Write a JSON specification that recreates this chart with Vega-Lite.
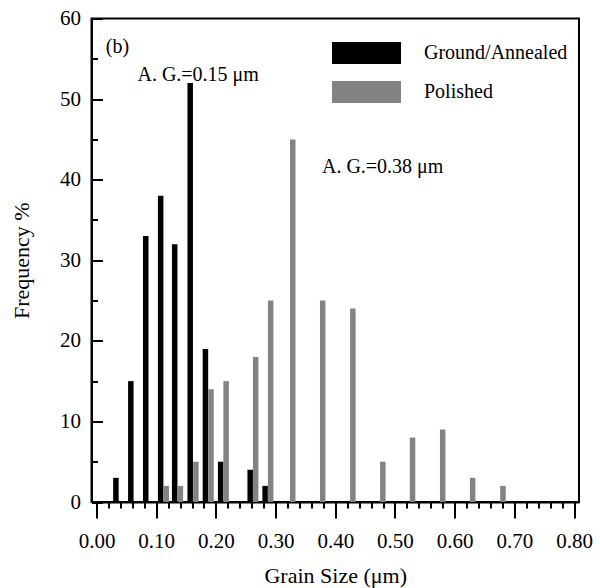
{
  "$schema": "https://vega.github.io/schema/vega-lite/v6.json",
  "autosize": {"type": "none"},
  "width": 487.5,
  "height": 483.5,
  "padding": {"left": 91.5, "top": 18.5, "right": 21, "bottom": 86},
  "background": "white",
  "config": {
    "view": {"stroke": "black", "strokeWidth": 2},
    "font": "Liberation Serif",
    "axisX": {
      "tickColor": "black", "tickWidth": 2,
      "domainColor": "black", "domainWidth": 2,
      "labelFont": "Liberation Serif", "labelFontSize": 21, "labelColor": "black",
      "labelPadding": 12, "labelFlush": false, "labelOverlap": false,
      "titleFont": "Liberation Serif", "titleFontSize": 22, "titleFontWeight": "normal", "titleColor": "black",
      "titlePadding": 14, "grid": false
    },
    "axisY": {
      "tickColor": "black", "tickWidth": 2,
      "domainColor": "black", "domainWidth": 2,
      "labelFont": "Liberation Serif", "labelFontSize": 21, "labelColor": "black",
      "labelPadding": 22, "labelFlush": false, "labelOverlap": false,
      "titleFont": "Liberation Serif", "titleFontSize": 22, "titleFontWeight": "normal", "titleColor": "black",
      "titlePadding": 26, "grid": false
    }
  },
  "datasets": {
    "bars": [
      {"size": 0.0325, "freq": 3, "series": "Ground/Annealed"},
      {"size": 0.0575, "freq": 15, "series": "Ground/Annealed"},
      {"size": 0.0825, "freq": 33, "series": "Ground/Annealed"},
      {"size": 0.1075, "freq": 38, "series": "Ground/Annealed"},
      {"size": 0.131, "freq": 32, "series": "Ground/Annealed"},
      {"size": 0.157, "freq": 52, "series": "Ground/Annealed"},
      {"size": 0.1825, "freq": 19, "series": "Ground/Annealed"},
      {"size": 0.208, "freq": 5, "series": "Ground/Annealed"},
      {"size": 0.2575, "freq": 4, "series": "Ground/Annealed"},
      {"size": 0.2825, "freq": 2, "series": "Ground/Annealed"},
      {"size": 0.1168, "freq": 2, "series": "Polished"},
      {"size": 0.1405, "freq": 2, "series": "Polished"},
      {"size": 0.1665, "freq": 5, "series": "Polished"},
      {"size": 0.1918, "freq": 14, "series": "Polished"},
      {"size": 0.2172, "freq": 15, "series": "Polished"},
      {"size": 0.2667, "freq": 18, "series": "Polished"},
      {"size": 0.2918, "freq": 25, "series": "Polished"},
      {"size": 0.3288, "freq": 45, "series": "Polished"},
      {"size": 0.379, "freq": 25, "series": "Polished"},
      {"size": 0.4295, "freq": 24, "series": "Polished"},
      {"size": 0.4797, "freq": 5, "series": "Polished"},
      {"size": 0.5295, "freq": 8, "series": "Polished"},
      {"size": 0.58, "freq": 9, "series": "Polished"},
      {"size": 0.6302, "freq": 3, "series": "Polished"},
      {"size": 0.681, "freq": 2, "series": "Polished"}
    ],
    "notes": [
      {"size": 0.0156, "freq": 55.7, "label": "(b)"},
      {"size": 0.0686, "freq": 52.3, "label": "A. G.=0.15 μm"},
      {"size": 0.3777, "freq": 40.8, "label": "A. G.=0.38 μm"}
    ]
  },
  "encoding": {
    "x": {
      "field": "size", "type": "quantitative",
      "scale": {"domain": [0, 0.8], "nice": false, "zero": false},
      "axis": {
        "title": "Grain Size (μm)",
        "values": [0,0.02,0.04,0.06,0.08,0.1,0.12,0.14,0.16,0.18,0.2,0.22,0.24,0.26,0.28,0.3,0.32,0.34,0.36,0.38,0.4,0.42,0.44,0.46,0.48,0.5,0.52,0.54,0.56,0.58,0.6,0.62,0.64,0.66,0.68,0.7,0.72,0.74,0.76,0.78,0.8],
        "labelExpr": "abs(datum.value*10 - round(datum.value*10)) < 0.001 ? format(datum.value, '.2f') : ''",
        "tickSize": {"condition": {"test": "abs(datum.value*10 - round(datum.value*10)) < 0.001", "value": 16}, "value": 6}
      }
    },
    "y": {
      "field": "freq", "type": "quantitative",
      "scale": {"domain": [0, 60], "nice": false},
      "axis": {
        "title": "Frequency %",
        "values": [0,5,10,15,20,25,30,35,40,45,50,55,60],
        "labelExpr": "datum.value % 10 === 0 ? datum.value : ''",
        "tickSize": {"condition": {"test": "datum.value % 10 === 0", "value": -11}, "value": -6}
      }
    }
  },
  "layer": [
    {
      "data": {"name": "bars"},
      "mark": {"type": "bar", "size": 5.5},
      "encoding": {
        "color": {
          "field": "series", "type": "nominal",
          "scale": {"domain": ["Ground/Annealed", "Polished"], "range": ["#000000", "#838383"]},
          "legend": {
            "title": null,
            "orient": "none",
            "legendX": 263.5,
            "legendY": 23,
            "padding": 0,
            "symbolType": "M-3,-0.96L3,-0.96L3,0.96L-3,0.96Z",
            "symbolSize": 529,
            "symbolStrokeWidth": 0,
            "rowPadding": 16,
            "labelFont": "Liberation Serif", "labelFontSize": 20, "labelColor": "black",
            "labelOffset": 46
          }
        }
      }
    },
    {
      "data": {"name": "notes"},
      "mark": {"type": "text", "align": "left", "baseline": "alphabetic", "font": "Liberation Serif", "fontSize": 20, "color": "black"},
      "encoding": {
        "text": {"field": "label"}
      }
    }
  ]
}
